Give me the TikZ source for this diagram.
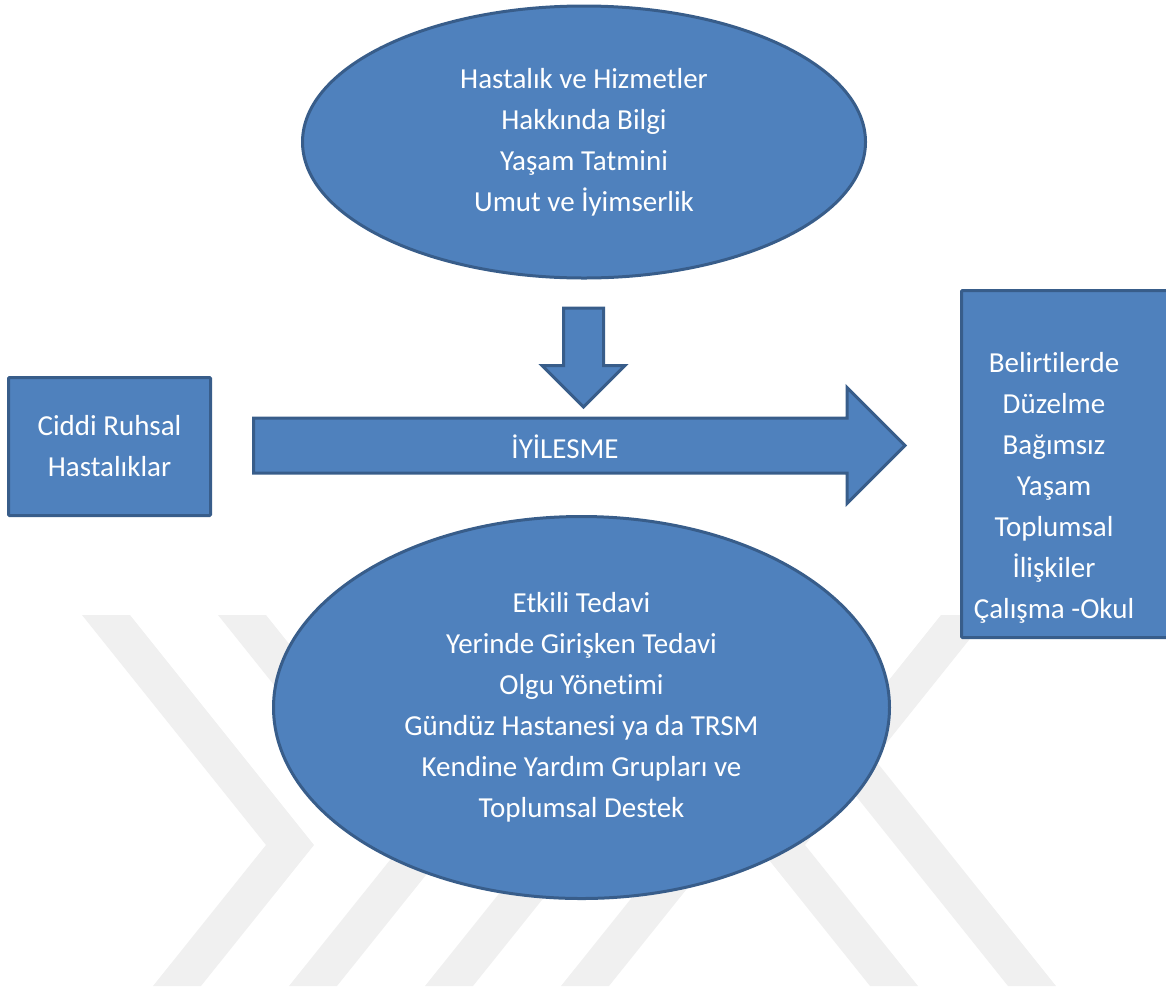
\documentclass[tikz,border=0pt]{standalone}
\usepackage{fontspec}
\setmainfont{Carlito}[Ligatures=NoCommon, RawFeature={-liga;-clig;-calt;-dlig}]
\usetikzlibrary{shapes.geometric,shapes.arrows,positioning}
\definecolor{ofisMavi}{HTML}{4F81BD}
\definecolor{ofisKenar}{HTML}{385D8A}
\definecolor{filigran}{HTML}{F0F0F0}
\tikzset{
  kutu/.style={draw=ofisKenar, fill=ofisMavi, line width=3pt, text=white, align=center,
               font=\fontsize{29}{41}\selectfont},
  elips/.style={kutu, ellipse, inner sep=0pt},
  dikdortgen/.style={kutu, rectangle, rounded corners=1pt, inner sep=0pt},
  blokok/.style={kutu, single arrow, single arrow tip angle=90},
  yazi/.style={text=white, align=center, font=\fontsize{29}{41}\selectfont, inner sep=0pt},
  iz/.style={fill=filigran, draw=none}
}
\newcommand{\nolig}{\kern0pt}

\begin{document}
\begin{tikzpicture}[x=1pt,y=-1pt]
\useasboundingbox (0,0) rectangle (1166,986);
% filigran
\foreach \a in {82,218,354,490}
  \fill[iz] (\a,615) -- ++(48,0) -- ++(184,230) -- ++(-113,141) -- ++(-48,0) -- ++(113,-141) -- cycle;
\fill[iz] (989,615) -- ++(-48,0) -- ++(-184,230) -- ++(113,141) -- ++(48,0) -- ++(-113,-141) -- cycle;
\fill[iz] (711,615) -- (759,615) -- (1056,986) -- (1008,986) -- cycle;

% sekiller
\node[elips, minimum width=563pt, minimum height=272pt] (bilgi) at (584,142)
  {Hastalık ve Hizmetler\\Hakkında Bilgi\\Yaşam Tatmini\\Umut ve İyimserlik};
\node[blokok, shape border rotate=270, inner sep=18.5pt, minimum height=99pt,
      single arrow head extend=21.5pt] (asagi) at (583.5,347.5) {};
\node[blokok, inner sep=26pt, minimum height=651.5pt,
      single arrow head extend=30.5pt] (iyiok) at (565.5,445.5) {};
\node[yazi, anchor=base] (iyilesme) at (565,458) {İYİLESME};
\node[dikdortgen, minimum width=202pt, minimum height=138pt] (hastalik) at (109.5,446.5)
  {Ciddi Ruhsal\\Hastalıklar};
\node[elips, minimum width=616pt, minimum height=382pt] (tedavi) at (581.5,707.5)
  {Etkili Tedavi\\Yerinde Girişken Tedavi\\Olgu Yönet\nolig imi\\Gündüz Hastanesi ya da TRSM\\Kendine Yardım Grupları ve\\Toplumsal Destek};
\node[dikdortgen, minimum width=212pt, minimum height=347pt] (sonuc) at (1067.5,464) {};
\node[yazi] (sonucyazi) at (1054,488)
  {Belirt\nolig ilerde\\Düzelme\\Bağımsız\\Yaşam\\Toplumsal\\İlişkiler\\Çalışma -Okul};
\end{tikzpicture}
\end{document}
